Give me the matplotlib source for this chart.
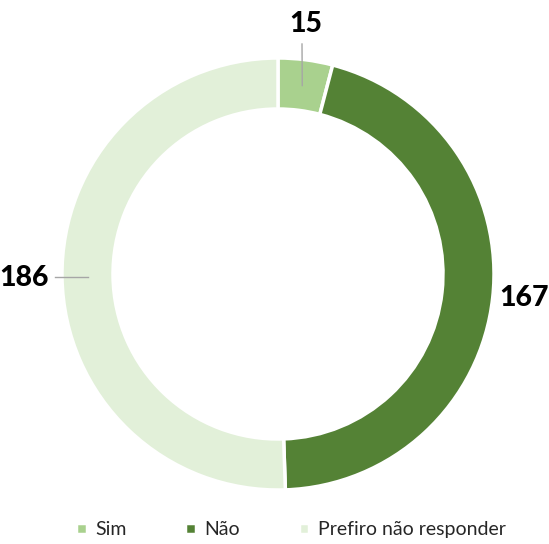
import numpy as np
import matplotlib.pyplot as plt

categorias = ["Sim", "Não", "Prefiro não responder"]
valores = [15, 167, 186]
cores = ["#A9D18E", "#548235", "#E2F0D9"]

plt.rcParams['font.family'] = ['Lato', 'DejaVu Sans']

fig = plt.figure(figsize=(5.49, 5.44), dpi=100)
ax = fig.add_axes([0, 0, 1, 1])

cx, cy, R = 278, 270, 216
wedges, _ = ax.pie(valores, colors=cores, startangle=90, counterclock=False,
                   center=(cx, cy), radius=R,
                   wedgeprops=dict(width=51, edgecolor='white', linewidth=2.5))
ax.set_xlim(0, 549)
ax.set_ylim(0, 544)
ax.set_aspect('equal')
ax.axis('off')

# rótulos
total = sum(valores)
inicio = np.cumsum([0] + valores[:-1])
meio = (inicio + np.array(valores) / 2) / total * 2 * np.pi  # horário a partir do topo

pos_rotulos = [(306, 520), (524, 246), (24, 266)]
linhas = [True, False, True]
for v, a, (tx, ty), lin in zip(valores, meio, pos_rotulos, linhas):
    ax.text(tx, ty, str(v), ha='center', va='center', fontsize=20.5,
            fontweight='black', color='black')
    if lin:
        r1 = R - 26
        x1 = cx + r1 * np.sin(a)
        y1 = cy + r1 * np.cos(a)
        if abs(np.sin(a)) > 0.7:
            x0, y0 = tx + 31, y1
        else:
            x0, y0 = tx - 4, ty - 20
        ax.plot([x0, x1], [y0, y1], color='#A6A6A6', linewidth=1)

fig.legend(wedges, categorias, loc='lower center', ncol=3, frameon=False,
           fontsize=14, bbox_to_anchor=(0.53, -0.022), handlelength=0.55,
           handleheight=0.55, handletextpad=0.45, columnspacing=3.0,
           labelcolor='#262626')

fig.savefig('out.png', dpi=100)
